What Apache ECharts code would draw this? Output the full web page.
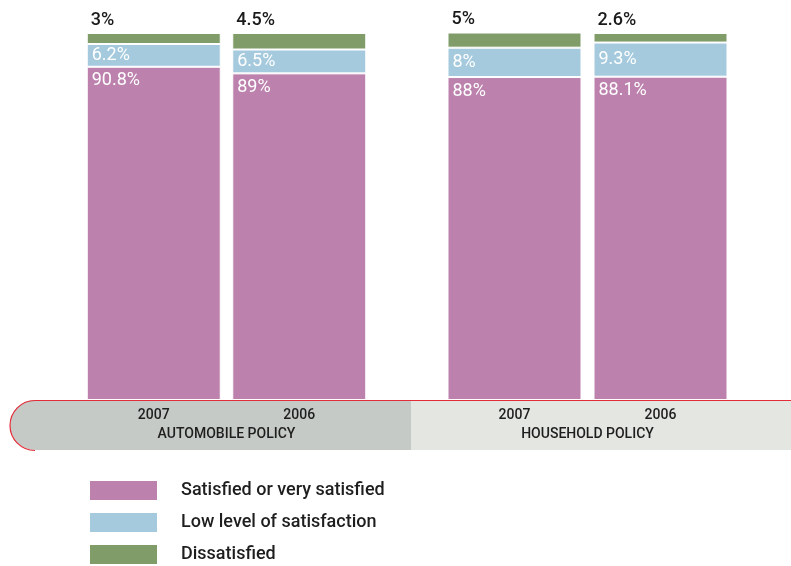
<!DOCTYPE html>
<html><head><meta charset="utf-8">
<script src="https://cdn.jsdelivr.net/npm/echarts@6/dist/echarts.min.js"></script>
<style>html,body{margin:0;padding:0;background:#fff}#c{width:791px;height:566px}</style>
</head><body><div id="c"></div>
<script>
const years = ['2007', '2006'];
const groupNames = ['AUTOMOBILE POLICY', 'HOUSEHOLD POLICY'];
const seriesNames = ['Satisfied or very satisfied', 'Low level of satisfaction', 'Dissatisfied'];
const autoSatisfied = [90.8, 89];
const autoLow = [6.2, 6.5];
const autoDissatisfied = [3, 4.5];
const houseSatisfied = [88, 88.1];
const houseLow = [8, 9.3];
const houseDissatisfied = [5, 2.6];

const colors = ['#bc82ad', '#a5cadd', '#7f9c69'];
const FONT = 'Roboto';
const chart = echarts.init(document.getElementById('c'));

function groupSeries(idx, sat, low, dis) {
  const base = { type: 'bar', stack: 'g' + idx, xAxisIndex: idx, yAxisIndex: idx, barWidth: 134,
    itemStyle: { borderColor: '#fff', borderWidth: 1 } };
  return [
    Object.assign({}, base, { name: seriesNames[0], data: sat, itemStyle: Object.assign({}, base.itemStyle, { color: colors[0] }),
      label: { show: true, position: 'insideTopLeft', distance: 5, formatter: '{c}%', color: '#fff', fontSize: 18, fontFamily: FONT } }),
    Object.assign({}, base, { name: seriesNames[1], data: low, itemStyle: Object.assign({}, base.itemStyle, { color: colors[1] }),
      label: { show: true, position: 'insideLeft', distance: 5, formatter: '{c}%', color: '#fff', fontSize: 18, fontFamily: FONT } }),
    Object.assign({}, base, { name: seriesNames[2], data: dis, itemStyle: Object.assign({}, base.itemStyle, { color: colors[2] }),
      label: { show: true, position: [4, -4], verticalAlign: 'bottom', formatter: '{c}%', color: '#1a1a1a', fontSize: 18, fontFamily: FONT, fontWeight: 500 } })
  ];
}

function xAx(i) {
  return { type: 'category', gridIndex: i, data: years,
    axisLine: { show: false }, axisTick: { show: false },
    axisLabel: { color: '#1e1e1e', fontSize: 14, fontWeight: 500, fontFamily: FONT, margin: 8 },
    name: groupNames[i], nameLocation: 'middle', nameGap: 27,
    nameTextStyle: { color: '#1e1e1e', fontSize: 14, fontWeight: 500, fontFamily: FONT } };
}
function yAx(i) {
  return { type: 'value', gridIndex: i, min: 0, max: 100, show: false, splitLine: { show: false } };
}

chart.setOption({
  animation: false,
  grid: [
    { left: 81, width: 291, top: 33, bottom: 166 },
    { left: 441.5, width: 292, top: 33, bottom: 166 }
  ],
  xAxis: [xAx(0), xAx(1)],
  yAxis: [yAx(0), yAx(1)],
  legend: {
    data: seriesNames, orient: 'vertical', left: 88, top: 479, padding: 0, height: 120, width: 400,
    itemWidth: 69, itemHeight: 21, itemGap: 9, icon: 'rect',
    textStyle: { color: '#1e1e1e', fontSize: 18, fontWeight: 500, lineHeight: 21, fontFamily: FONT, padding: [0, 0, 0, 18] }
  },
  graphic: [
    { type: 'rect', z: -1, shape: { x: 10, y: 400, width: 402, height: 50, r: [25, 0, 0, 25] }, style: { fill: '#c6cac6' } },
    { type: 'rect', z: -1, shape: { x: 411, y: 400, width: 380, height: 50 }, style: { fill: '#e3e6e1' } },
    { type: 'line', z: 0, shape: { x1: 35, y1: 400.5, x2: 791, y2: 400.5 }, style: { stroke: '#e42c38', lineWidth: 1.2 } },
    { type: 'arc', z: 0, shape: { cx: 35, cy: 425.5, r: 25, startAngle: Math.PI / 2, endAngle: Math.PI * 1.5, clockwise: true }, style: { stroke: '#e42c38', lineWidth: 1.2, fill: null } }
  ],
  series: [].concat(
    groupSeries(0, autoSatisfied, autoLow, autoDissatisfied),
    groupSeries(1, houseSatisfied, houseLow, houseDissatisfied)
  )
});
</script></body></html>
